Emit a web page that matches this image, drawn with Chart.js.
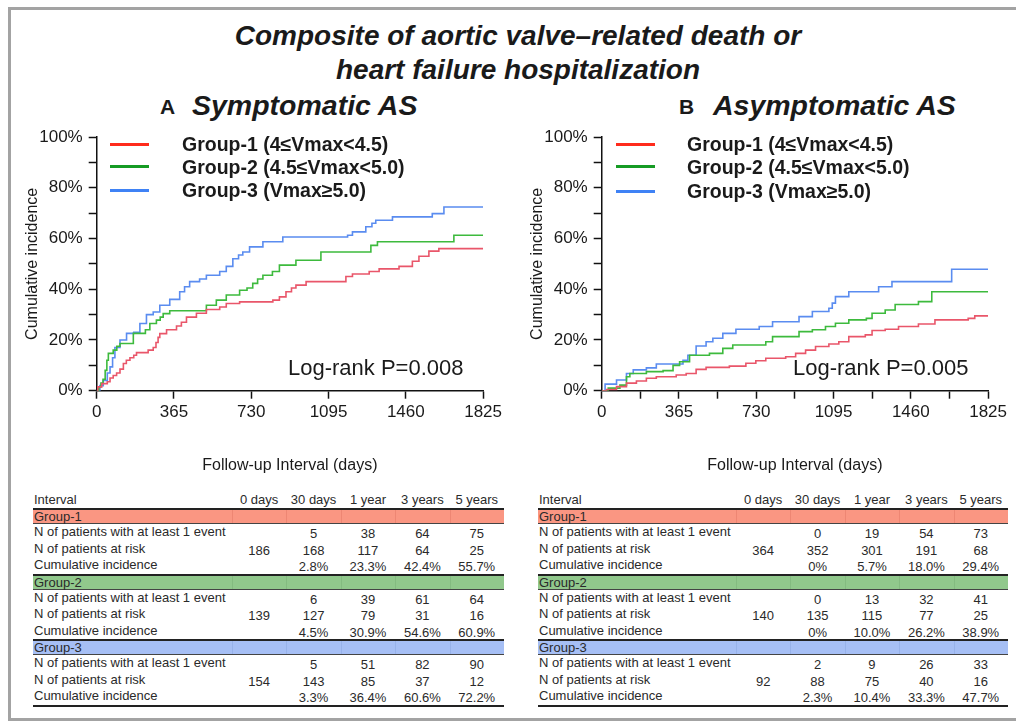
<!DOCTYPE html>
<html>
<head>
<meta charset="utf-8">
<script src="https://cdn.jsdelivr.net/npm/chart.js@4.4.1/dist/chart.umd.min.js"></script>
<style>
  body {
    margin: 0;
    width: 1016px;
    height: 723px;
    position: relative;
    overflow: hidden;
    background: #fff;
    color: #1a1a1a;
    font-family: "Liberation Sans", Arial, Helvetica, sans-serif;
  }
  .frame {
    position: absolute;
    left: 8px;
    top: 7px;
    width: 1030px;
    height: 708px;
    border: 3px solid #a3a3a3;
    border-right: none;
  }
  .abs { position: absolute; white-space: nowrap; }
  .title { left: 0; width: 1036px; text-align: center; font-size: 28px; line-height: 30px; font-weight: bold; font-style: italic; }
  .letter { font-size: 21px; line-height: 26px; font-weight: bold; }
  .panel { font-size: 28.5px; line-height: 32px; font-weight: bold; font-style: italic; }
  .leg-line { height: 3px; width: 39px; }
  .leg-text { font-size: 19.5px; line-height: 22px; font-weight: bold; }
  .logrank { font-size: 22px; line-height: 26px; }
  canvas { position: absolute; }
  .tbl { position: absolute; top: 492px; font-size: 13px; color: #2a2a2a; }
  .row { display: flex; box-sizing: border-box; height: 16.5px; line-height: 16.5px; }
  .row.head { height: 16px; line-height: 16px; }
  .row.band { height: 16px; line-height: 13px; border-top: 2px solid #222; border-bottom: 1px solid #444; }
  .row.last { height: 18.5px; border-bottom: 2px solid #222; }
  .cell { text-align: center; }
  .num { position: relative; top: 2px; }
  .lab { padding-left: 1px; }
</style>
</head>
<body>
<div class="frame"></div>

<div class="abs title" style="top:21px">Composite of aortic valve–related death or</div>
<div class="abs title" style="top:55px">heart failure hospitalization</div>

<div class="abs letter" style="left:160px; top:94px">A</div>
<div class="abs panel" style="left:192px; top:89px">Symptomatic AS</div>
<div class="abs letter" style="left:679px; top:94px">B</div>
<div class="abs panel" style="left:713px; top:89px">Asymptomatic AS</div>

<canvas id="chartA" width="485" height="360" style="left:20px; top:120px"></canvas>
<canvas id="chartB" width="485" height="360" style="left:525px; top:120px"></canvas>

<div id="legendA"></div>
<div id="legendB"></div>

<div class="abs logrank" style="left:288px; top:355px">Log-rank P=0.008</div>
<div class="abs logrank" style="left:793px; top:355px">Log-rank P=0.005</div>

<div id="tableA" class="tbl" style="left:33px"></div>
<div id="tableB" class="tbl" style="left:538px"></div>

<script>
// ---------- data (days, cumulative incidence %) ----------
const symDays1 = [0, 5, 24, 50, 63, 78, 94, 110, 126, 140, 157, 175, 188, 243, 267, 280, 290, 298, 330, 377, 400, 424, 471, 518, 581, 612, 675, 832, 863, 894, 920, 941, 989, 1177, 1208, 1287, 1334, 1428, 1491, 1522, 1569, 1616, 1825];
const symInc1  = [0, 1.5, 2.8, 3.5, 5, 6, 7, 8.5, 10.7, 12, 13, 14, 15, 16, 17, 19, 21, 22.5, 24, 25.5, 27, 29, 30.5, 32, 33, 34.4, 35, 35.7, 37, 39, 40.5, 41.6, 43, 45, 46, 47, 48, 49, 51, 53, 55, 56, 56];

const symDays2 = [0, 10, 20, 30, 40, 48, 55, 78, 95, 110, 173, 230, 251, 282, 300, 314, 345, 518, 565, 612, 675, 710, 737, 760, 785, 830, 863, 941, 1059, 1295, 1326, 1687, 1825];
const symInc2  = [0, 1.5, 3, 4.5, 8, 12, 14.7, 16, 17.5, 18.6, 22.6, 24, 26.5, 27.8, 29, 30.4, 31.5, 33.7, 35.7, 37.7, 39.6, 40.5, 42.3, 44, 45.5, 47, 49.5, 51.4, 54.7, 57.3, 58.7, 61.3, 61.3];

const symDays3 = [0, 15, 31, 50, 63, 75, 86, 110, 141, 175, 204, 235, 267, 298, 345, 392, 415, 439, 486, 518, 581, 612, 643, 670, 690, 722, 785, 879, 1185, 1208, 1271, 1300, 1318, 1397, 1585, 1640, 1825];
const symInc3  = [0, 2, 4, 7, 9.4, 13, 17, 20, 22.6, 23, 26.5, 30, 31, 33.7, 36, 39, 41, 43, 44, 45.5, 47, 49, 52, 53.5, 54.7, 56.7, 58.7, 60.6, 61.3, 62.6, 64.6, 66, 67.2, 68.5, 69.8, 72.4, 72.4];

const asyDays1 = [0, 23, 70, 117, 164, 211, 258, 352, 399, 446, 493, 603, 681, 728, 775, 869, 916, 963, 1010, 1073, 1120, 1167, 1245, 1277, 1339, 1402, 1496, 1574, 1731, 1762, 1825];
const asyInc1  = [0, 0.5, 1.6, 3, 3.8, 4.9, 5.5, 6.2, 6.8, 8.4, 9.2, 9.7, 10.8, 11.8, 12.8, 13.4, 14.7, 16, 17.4, 18.4, 19.3, 21.3, 22, 23.7, 24.2, 25.3, 26.3, 27.9, 28.5, 29.5, 29.5];

const asyDays2 = [0, 31, 86, 117, 133, 211, 290, 337, 368, 415, 509, 572, 619, 775, 807, 932, 995, 1057, 1104, 1167, 1250, 1277, 1339, 1386, 1496, 1559, 1825];
const asyInc2  = [0, 1, 2.2, 5.5, 6.8, 7.5, 7.9, 10, 11.4, 14, 14.7, 16.7, 18, 19.3, 21.3, 23.3, 24, 25.3, 26.6, 27.9, 28.5, 30.5, 31.8, 34, 35.1, 39, 39];

const asyDays3 = [0, 16, 70, 117, 149, 211, 258, 384, 407, 446, 493, 525, 572, 634, 744, 807, 932, 995, 1073, 1089, 1104, 1167, 1308, 1371, 1653, 1825];
const asyInc3  = [0, 2.6, 4.2, 6.8, 8.2, 9, 10.5, 12, 14, 17.6, 19.3, 20.7, 22.6, 24.2, 25.3, 27.2, 29.2, 31.2, 32.5, 34.5, 37.1, 39, 41, 43, 47.9, 47.9];

const yTicks = [0, 10, 20, 30, 40, 50, 60, 70, 80, 90, 100];
const xTicksA = [0, 365, 730, 1095, 1460, 1825];
const xTicksB = [0, 182.5, 365, 547.5, 730, 912.5, 1095, 1277.5, 1460, 1642.5, 1825];

const legendA = ["Group-1 (4≤Vmax<4.5)", "Group-2 (4.5≤Vmax<5.0)", "Group-3 (Vmax≥5.0)"];
const legendB = ["Group-1 (4≤Vmax<4.5)", "Group-2 (4.5≤Vmax<5.0)", "Group-3  (Vmax≥5.0)"];

// ---------- risk table ----------
const tableCols = ["0 days", "30 days", "1 year", "3 years", "5 years"];
const groupNames = ["Group-1", "Group-2", "Group-3"];
const rowLabels = ["N of patients with at least 1 event", "N of patients at risk", "Cumulative incidence"];

const symEvents = [["", "5", "38", "64", "75"], ["", "6", "39", "61", "64"], ["", "5", "51", "82", "90"]];
const symAtRisk = [["186", "168", "117", "64", "25"], ["139", "127", "79", "31", "16"], ["154", "143", "85", "37", "12"]];
const symCumInc = [["", "2.8%", "23.3%", "42.4%", "55.7%"], ["", "4.5%", "30.9%", "54.6%", "60.9%"], ["", "3.3%", "36.4%", "60.6%", "72.2%"]];

const asyEvents = [["", "0", "19", "54", "73"], ["", "0", "13", "32", "41"], ["", "2", "9", "26", "33"]];
const asyAtRisk = [["364", "352", "301", "191", "68"], ["140", "135", "115", "77", "25"], ["92", "88", "75", "40", "16"]];
const asyCumInc = [["", "0%", "5.7%", "18.0%", "29.4%"], ["", "0%", "10.0%", "26.2%", "38.9%"], ["", "2.3%", "10.4%", "33.3%", "47.7%"]];

const lineColors = ["#e9566a", "#3dba3d", "#5a8cf0"];
const legendColors = ["#ff2b1c", "#169b24", "#3f82f5"];
const bandColors = ["#fa9682", "#91c88c", "#a6bff5"];
const bandLines = ["#ee8673", "#84bb80", "#97b2ea"];

const FONT = "'Liberation Sans', Arial, Helvetica, sans-serif";

function makeChart(id, daysList, incList, xTicks) {
  const datasets = daysList.map((days, i) => ({
    label: groupNames[i],
    data: days.map((d, j) => ({ x: d, y: incList[i][j] })),
    borderColor: lineColors[i],
    borderWidth: 1.6,
    pointRadius: 0,
    stepped: true,
    fill: false,
  }));

  return new Chart(document.getElementById(id), {
    type: "line",
    data: { datasets: datasets },
    options: {
      responsive: false,
      animation: false,
      layout: { padding: { top: 17, right: 20.7, left: 0, bottom: 0 } },
      plugins: { legend: { display: false }, tooltip: { enabled: false } },
      scales: {
        x: {
          type: "linear",
          min: 0,
          max: 1825,
          afterBuildTicks: (scale) => {
            scale.ticks = xTicks.map((v) => ({ value: v }));
          },
          afterFit: (scale) => {
            scale.height = 89.3;
          },
          grid: { drawOnChartArea: false, tickLength: 8, tickColor: "#111", tickWidth: 1.5 },
          border: { color: "#111", width: 1.5 },
          ticks: {
            autoSkip: false,
            maxRotation: 0,
            padding: 3,
            color: "#1a1a1a",
            font: { family: FONT, size: 17 },
            callback: (v) => (v % 365 === 0 ? String(v) : ""),
          },
          title: {
            display: true,
            text: "Follow-up Interval (days)",
            color: "#1a1a1a",
            font: { family: FONT, size: 16 },
            padding: { top: 0, bottom: 4.4 },
          },
        },
        y: {
          min: 0,
          max: 100,
          afterBuildTicks: (scale) => {
            scale.ticks = yTicks.map((v) => ({ value: v }));
          },
          afterFit: (scale) => {
            scale.width = 76.7;
          },
          grid: { drawOnChartArea: false, tickLength: 8, tickColor: "#111", tickWidth: 1.5 },
          border: { color: "#111", width: 1.5 },
          ticks: {
            padding: 6,
            color: "#1a1a1a",
            font: { family: FONT, size: 17 },
            callback: (v) => (v % 20 === 0 ? v + "%" : ""),
          },
          title: {
            display: true,
            text: "Cumulative incidence",
            color: "#1a1a1a",
            font: { family: FONT, size: 16 },
            padding: { top: 3.4, bottom: 0 },
          },
        },
      },
    },
  });
}

function renderLegend(id, labels, lineLeft, textLeft, centers) {
  const box = document.getElementById(id);
  labels.forEach((text, i) => {
    const line = document.createElement("div");
    line.className = "abs leg-line";
    line.style.left = lineLeft + "px";
    line.style.top = centers[i] - 1.5 + "px";
    line.style.background = legendColors[i];
    box.appendChild(line);

    const label = document.createElement("div");
    label.className = "abs leg-text";
    label.style.left = textLeft + "px";
    label.style.top = centers[i] - 11 + "px";
    label.textContent = text;
    box.appendChild(label);
  });
}

function renderTable(id, labelWidth, colWidth, events, atRisk, cumInc) {
  const box = document.getElementById(id);

  function addRow(cls, label, values, isBand, groupIndex) {
    const row = document.createElement("div");
    row.className = "row " + cls;
    if (isBand) row.style.background = bandColors[groupIndex];

    const first = document.createElement("div");
    first.className = "lab";
    first.style.width = labelWidth + "px";
    first.textContent = label;
    row.appendChild(first);

    values.forEach((v) => {
      const cell = document.createElement("div");
      cell.className = "cell";
      cell.style.width = colWidth + "px";
      if (isBand) {
        cell.style.borderLeft = "1px solid " + bandLines[groupIndex];
        cell.style.boxSizing = "border-box";
      }
      const span = document.createElement("span");
      if (cls !== "head") span.className = "num";
      span.textContent = v;
      cell.appendChild(span);
      row.appendChild(cell);
    });
    box.appendChild(row);
  }

  addRow("head", "Interval", tableCols, false, 0);
  groupNames.forEach((g, gi) => {
    addRow("band", g, ["", "", "", "", ""], true, gi);
    addRow("", rowLabels[0], events[gi], false, gi);
    addRow("", rowLabels[1], atRisk[gi], false, gi);
    addRow(gi === 2 ? "last" : "", rowLabels[2], cumInc[gi], false, gi);
  });
}

makeChart("chartA", [symDays1, symDays2, symDays3], [symInc1, symInc2, symInc3], xTicksA);
makeChart("chartB", [asyDays1, asyDays2, asyDays3], [asyInc1, asyInc2, asyInc3], xTicksB);

renderLegend("legendA", legendA, 110, 182, [144.3, 166.7, 190]);
renderLegend("legendB", legendB, 616, 687, [144.3, 166.7, 191]);

renderTable("tableA", 198, 54.4, symEvents, symAtRisk, symCumInc);
renderTable("tableB", 197, 54.4, asyEvents, asyAtRisk, asyCumInc);
</script>
</body>
</html>
